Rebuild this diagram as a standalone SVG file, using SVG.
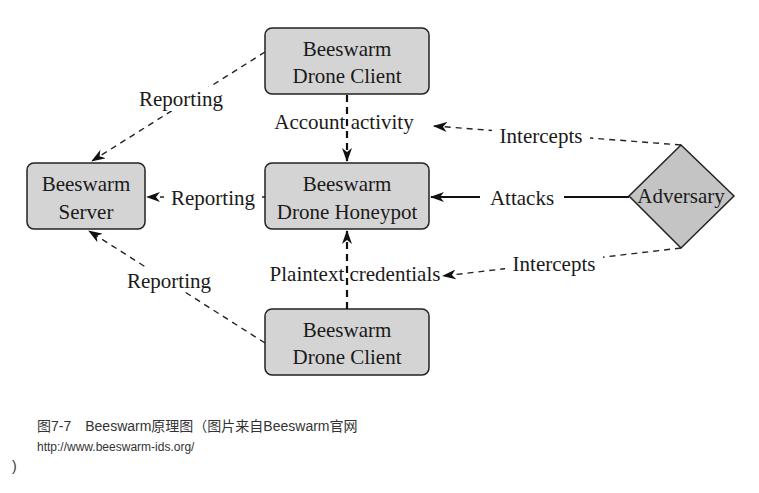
<svg xmlns="http://www.w3.org/2000/svg" width="759" height="493" viewBox="0 0 759 493">
<style>
.box{fill:#d4d4d4;stroke:#222;stroke-width:1.5}
.t{font-family:"Liberation Serif","Times New Roman",serif;font-size:21px;fill:#1a1a1a;text-anchor:middle}
.lbl{font-family:"Liberation Serif","Times New Roman",serif;font-size:21px;fill:#1a1a1a;text-anchor:middle}
.bg{fill:#fff}
.dash{fill:none;stroke:#222;stroke-width:1.4;stroke-dasharray:6,5}
.dashb{fill:none;stroke:#111;stroke-width:2.2;stroke-dasharray:7,5}
.solid{fill:none;stroke:#111;stroke-width:2.2}
.cap{font-family:"Liberation Sans","Noto Sans CJK SC",sans-serif;fill:#333}
</style>
<defs>
<marker id="ah" viewBox="0 0 14 10" refX="13" refY="5" markerWidth="14" markerHeight="10" markerUnits="userSpaceOnUse" orient="auto">
<path d="M0,0 L14,5 L0,10 L4,5 z" fill="#111"/>
</marker>
</defs>
<rect width="759" height="493" fill="#fff"/>
<g id="connectors">
<line class="dash" x1="265" y1="52" x2="92" y2="161" marker-end="url(#ah)"/>
<line class="dash" x1="265" y1="343" x2="89" y2="231" marker-end="url(#ah)"/>
<line class="dash" x1="265" y1="197" x2="147" y2="197" marker-end="url(#ah)"/>
<line class="dashb" x1="347" y1="95" x2="347" y2="161" marker-end="url(#ah)"/>
<line class="dashb" x1="347" y1="309" x2="347" y2="231" marker-end="url(#ah)"/>
<line class="solid" x1="629" y1="197" x2="431" y2="197" marker-end="url(#ah)"/>
<line class="dash" x1="681" y1="145" x2="434" y2="126" marker-end="url(#ah)"/>
<line class="dash" x1="681" y1="248" x2="443" y2="276" marker-end="url(#ah)"/>
<rect class="bg" x="134" y="87" width="96" height="24"/>
<text class="lbl" x="181" y="106">Reporting</text>
<rect class="bg" x="121" y="268" width="96" height="24"/>
<text class="lbl" x="169" y="288">Reporting</text>
<rect class="bg" x="164" y="185" width="98" height="24"/>
<text class="lbl" x="213" y="205">Reporting</text>
<text class="lbl" x="344" y="129">Account activity</text>
<text class="lbl" x="355" y="281">Plaintext credentials</text>
<rect class="bg" x="480" y="185" width="84" height="24"/>
<text class="lbl" x="522" y="205">Attacks</text>
<rect class="bg" x="492" y="123" width="98" height="24"/>
<text class="lbl" x="541" y="143">Intercepts</text>
<rect class="bg" x="505" y="251" width="98" height="24"/>
<text class="lbl" x="554" y="271">Intercepts</text>
</g>
<g id="client-top">
<rect class="box" x="265" y="28" width="164" height="66" rx="7"/>
<text class="t" x="347" y="56">Beeswarm</text>
<text class="t" x="347" y="83">Drone Client</text>
</g>
<g id="honeypot">
<rect class="box" x="265" y="163" width="164" height="66" rx="7"/>
<text class="t" x="347" y="191">Beeswarm</text>
<text class="t" x="347" y="219">Drone Honeypot</text>
</g>
<g id="client-bottom">
<rect class="box" x="265" y="309" width="164" height="66" rx="7"/>
<text class="t" x="347" y="337">Beeswarm</text>
<text class="t" x="347" y="364">Drone Client</text>
</g>
<g id="server">
<rect class="box" x="27" y="163" width="118" height="66" rx="7"/>
<text class="t" x="86" y="191">Beeswarm</text>
<text class="t" x="86" y="219">Server</text>
</g>
<g id="adversary">
<polygon points="681,145 734,196 681,248 629,196" fill="#c4c4c4" stroke="#222" stroke-width="1.5"/>
<text class="t" x="681" y="203">Adversary</text>
</g>
<g id="caption">
<text class="cap" x="37" y="431" font-size="14">图7-7　Beeswarm原理图（图片来自Beeswarm官网</text>
<text class="cap" x="37" y="451" font-size="12">http://www.beeswarm-ids.org/</text>
<text class="cap" x="12" y="471" font-size="14">)</text>
</g>
</svg>
